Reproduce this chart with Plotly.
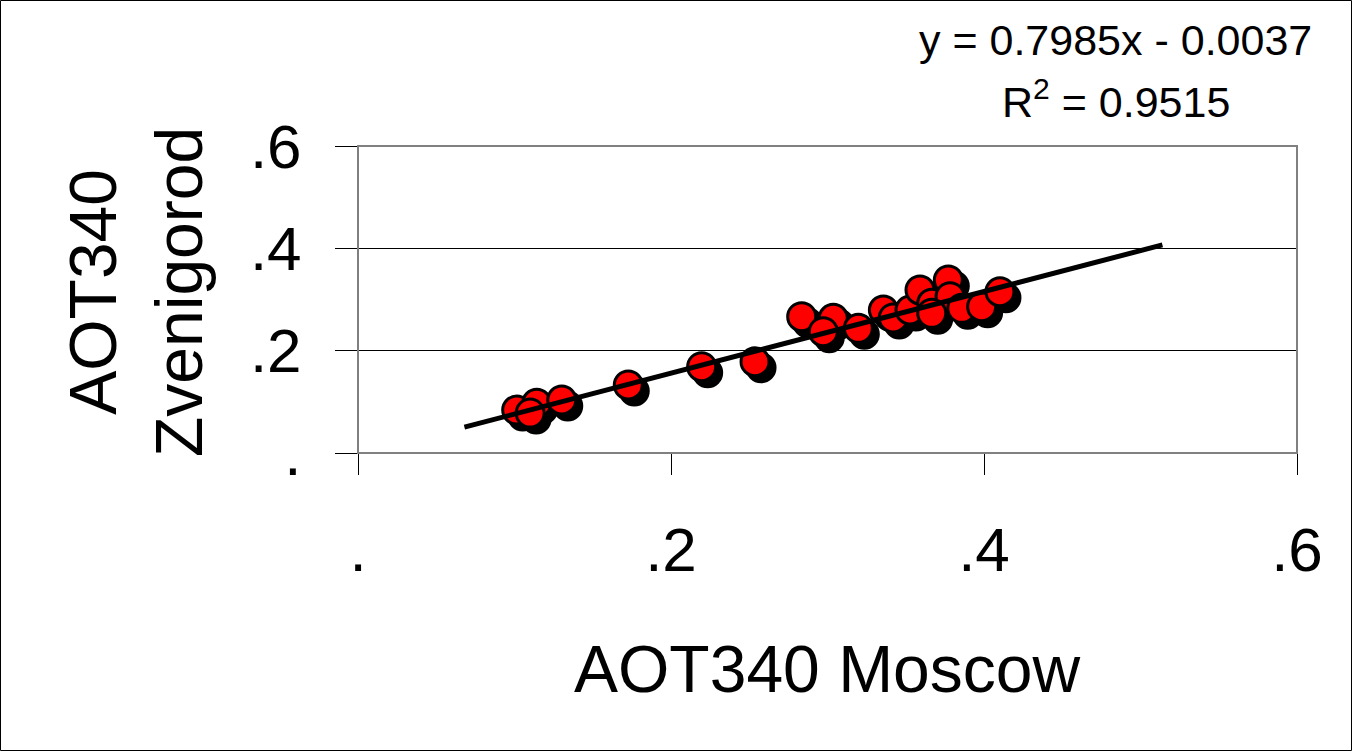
import numpy as np
import plotly.graph_objects as go

# AOT at 340 nm: Moscow (x) vs Zvenigorod (y)
aot_moscow = [0.1014, 0.1142, 0.1100, 0.1302, 0.1727, 0.2196, 0.2537, 0.2835,
              0.3037, 0.2973, 0.3197, 0.3357, 0.3420, 0.3527, 0.3591, 0.3772,
              0.3666, 0.3783, 0.3666, 0.3858, 0.3985, 0.4102]
aot_zvenigorod = [0.0840, 0.0971, 0.0780, 0.1036, 0.1329, 0.1687, 0.1784, 0.2664,
                  0.2632, 0.2371, 0.2437, 0.2795, 0.2640, 0.2795, 0.3185, 0.3381,
                  0.2926, 0.3055, 0.2730, 0.2828, 0.2859, 0.3152]

# linear fit reported on the chart
fit_slope = 0.7985
fit_intercept = -0.0037
fit_r2 = 0.9515
fit_x_range = [0.068, 0.514]

tick_vals = [0, 0.2, 0.4, 0.6]
tick_text = [".", ".2", ".4", ".6"]
axis_range = [0, 0.6]

W, H = 1353, 752
ML, MR, MT, MB = 358, 56, 146, 299
PW, PH = W - ML - MR, H - MT - MB

FONT = "Arial, Liberation Sans, sans-serif"

fit_x = np.array(fit_x_range)
fit_y = fit_slope * fit_x + fit_intercept

# drop-shadow offset of the markers, in pixels, converted to axis units
shadow_px = 6
sx = shadow_px * (axis_range[1] - axis_range[0]) / PW
sy = shadow_px * (axis_range[1] - axis_range[0]) / PH

fig = go.Figure()

# invisible trace to anchor the visible axes
fig.add_trace(go.Scatter(x=[None], y=[None], xaxis="x", yaxis="y",
                         showlegend=False, hoverinfo="skip"))

# marker shadows on a slightly shifted overlay
fig.add_trace(go.Scatter(
    x=aot_moscow, y=aot_zvenigorod, mode="markers", xaxis="x2", yaxis="y2",
    marker=dict(size=28, color="black", line=dict(color="black", width=3)),
    showlegend=False, hoverinfo="skip"))

# data points
fig.add_trace(go.Scatter(
    x=aot_moscow, y=aot_zvenigorod, mode="markers", xaxis="x3", yaxis="y3",
    marker=dict(size=28, color="#FF0000", line=dict(color="black", width=3)),
    showlegend=False))

# trend line
fig.add_trace(go.Scatter(
    x=fit_x, y=fit_y, mode="lines", xaxis="x3", yaxis="y3",
    line=dict(color="black", width=5), showlegend=False))

hidden = dict(visible=False, showgrid=False, zeroline=False)

fig.update_layout(
    width=W, height=H,
    margin=dict(l=ML, r=MR, t=MT, b=MB),
    paper_bgcolor="white", plot_bgcolor="white",
    font=dict(family=FONT, color="black"),
    xaxis=dict(range=axis_range, tickvals=tick_vals, ticktext=tick_text,
               showgrid=False, zeroline=False, showline=True,
               linecolor="black", linewidth=1,
               ticks="outside", ticklen=21, tickcolor="black", tickwidth=1,
               tickfont=dict(size=62, family=FONT), ticklabelstandoff=22),
    yaxis=dict(range=axis_range, tickvals=tick_vals, ticktext=tick_text,
               showgrid=True, gridcolor="black", gridwidth=1, zeroline=False,
               showline=True, linecolor="black", linewidth=1,
               ticks="outside", ticklen=22, tickcolor="black", tickwidth=1,
               tickfont=dict(size=62, family=FONT), ticklabelstandoff=21),
    xaxis2=dict(hidden, overlaying="x", range=[axis_range[0] - sx, axis_range[1] - sx]),
    yaxis2=dict(hidden, overlaying="y", range=[axis_range[0] + sy, axis_range[1] + sy]),
    xaxis3=dict(hidden, overlaying="x", range=axis_range),
    yaxis3=dict(hidden, overlaying="y", range=axis_range),
)


def px_x(p):
    return (p - ML) / PW


def px_y(p):
    return (H - MB - p) / PH


shapes = [
    # plot-area frame
    dict(type="rect", xref="paper", yref="paper", x0=0, x1=1, y0=0, y1=1,
         line=dict(color="#808080", width=2), layer="above"),
    # outer chart border
    dict(type="rect", xref="paper", yref="paper",
         x0=px_x(0.5), x1=px_x(W - 1.5), y0=px_y(H - 1.5), y1=px_y(0.5),
         line=dict(color="black", width=1), layer="below"),
]
fig.update_layout(shapes=shapes)

annotations = [
    dict(text=f"y = {fit_slope}x - {abs(fit_intercept):.4f}",
         x=px_x(1115), y=px_y(40), xref="paper", yref="paper",
         xanchor="center", yanchor="middle", showarrow=False,
         font=dict(size=43, family=FONT)),
    dict(text=f"R<sup>2</sup> = {fit_r2}",
         x=px_x(1116), y=px_y(99), xref="paper", yref="paper",
         xanchor="center", yanchor="middle", showarrow=False,
         font=dict(size=43, family=FONT)),
    dict(text="AOT340 Moscow",
         x=px_x(827), y=px_y(669), xref="paper", yref="paper",
         xanchor="center", yanchor="middle", showarrow=False,
         font=dict(size=66, family=FONT)),
    dict(text="AOT340<br>Zvenigorod", textangle=-90,
         x=px_x(136), y=px_y(292), xref="paper", yref="paper",
         xanchor="center", yanchor="middle", showarrow=False,
         font=dict(size=66, family=FONT)),
]
fig.update_layout(annotations=annotations)

fig.write_html("out.html")
